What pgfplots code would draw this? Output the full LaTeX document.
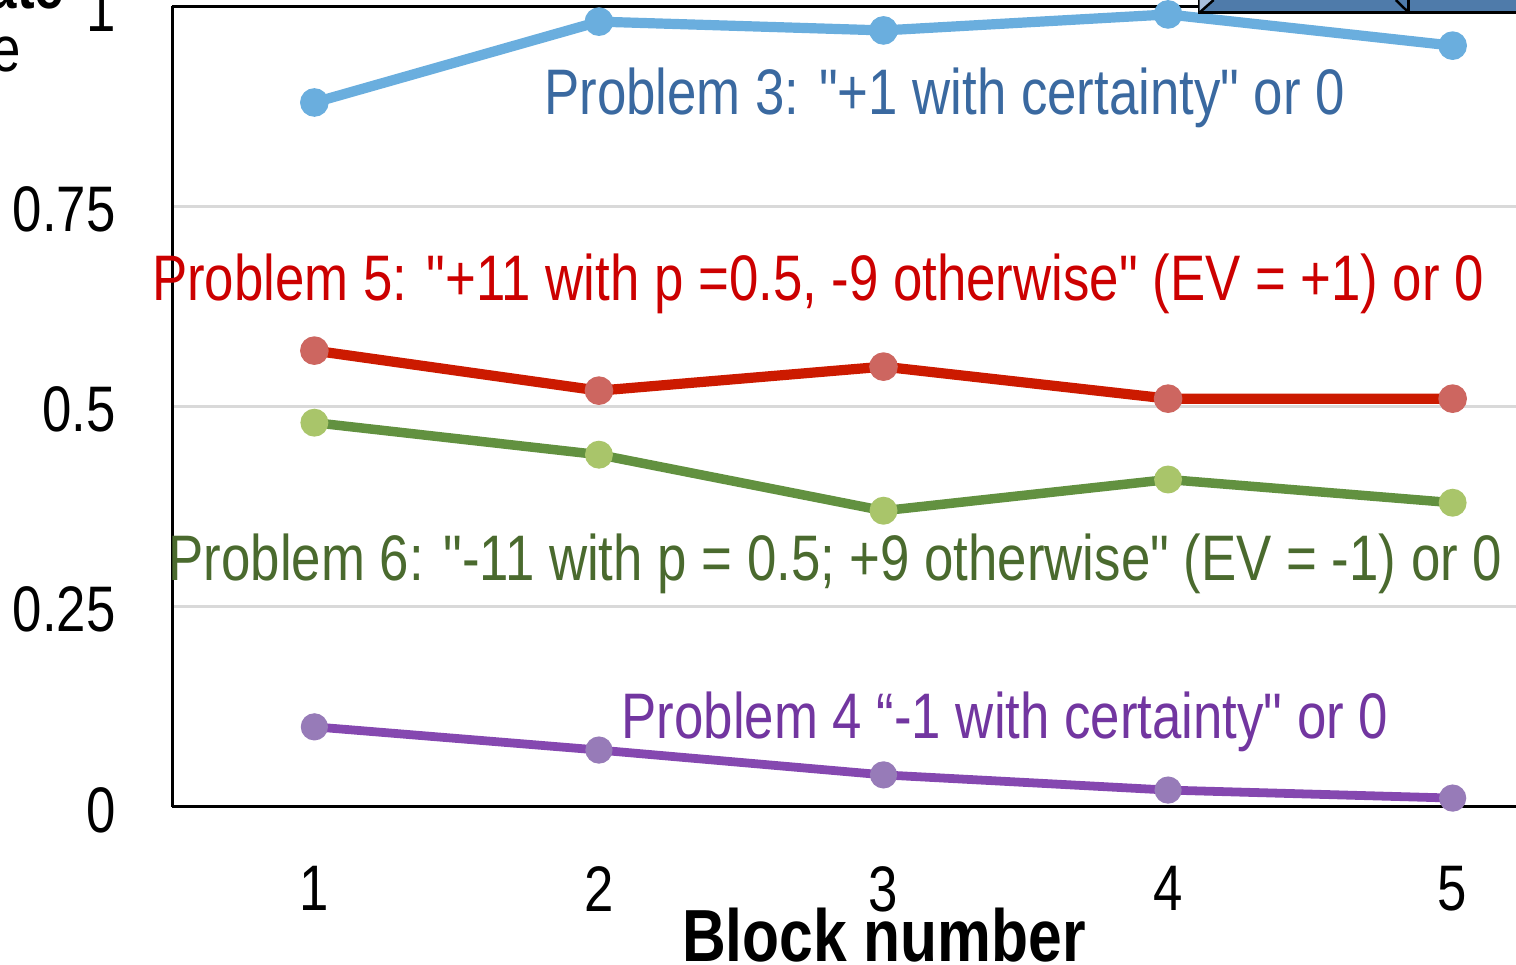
\documentclass[border=0pt]{standalone}
\usepackage{pgfplots}
\pgfplotsset{compat=1.18}
\usepackage{fontspec}
\setmainfont{Liberation Sans}[FakeStretch=0.82, Ligatures=TeXOff]

\definecolor{pthree}{HTML}{6AAEDE}
\definecolor{pthreetxt}{HTML}{3A69A0}
\definecolor{pfive}{HTML}{CC1A00}
\definecolor{pfivemk}{HTML}{CD6660}
\definecolor{pfivetxt}{HTML}{CC0000}
\definecolor{psix}{HTML}{629140}
\definecolor{psixmk}{HTML}{A9C56A}
\definecolor{psixtxt}{HTML}{4A6A2E}
\definecolor{pfour}{HTML}{8548B0}
\definecolor{pfourmk}{HTML}{977BB8}
\definecolor{pfourtxt}{HTML}{7236A0}
\definecolor{boxblue}{HTML}{4F7BAA}
\definecolor{boxlight}{HTML}{A9BFDC}

\begin{document}
\begin{tikzpicture}[x=0.01cm,y=0.01cm]
\begin{axis}[
  name=ax,
  at={(1.72cm,1.58cm)}, anchor=south west,
  scale only axis,
  width=14.22cm, height=8cm,
  xmin=0.5, xmax=5.5, ymin=0, ymax=1,
  xtick={1,2,3,4,5},
  ytick={0,0.25,0.5,0.75,1},
  yticklabels={0,0.25,0.5,0.75,1},
  major tick length=0pt,
  ymajorgrids, grid style={draw=black!15, line width=0.8pt},
  axis line style={black, line width=0.9pt},
  axis x line*=bottom, axis y line*=left,
  /pgf/number format/assume math mode=true,
  tick label style={font=\fontsize{18.3}{20}\selectfont},
  xticklabel style={yshift=-0.47cm},
  yticklabel style={xshift=-0.44cm, yshift=-0.03cm},
  clip=false,
]
% top border of the plot area
\draw[black, line width=0.9pt] (axis cs:0.5,1) -- (axis cs:5.6,1);

% Problem 3: +1 with certainty
\addplot[pthree, line width=2.9pt, mark=*, mark size=2.6pt,
  mark options={fill=pthree, draw=pthree}]
  coordinates {(1,0.88) (2,0.981) (3,0.97) (4,0.99) (5,0.951)};
% Problem 5: +11 with p=0.5, -9 otherwise
\addplot[pfive, line width=2.9pt, mark=*, mark size=2.6pt,
  mark options={fill=pfivemk, draw=pfivemk}]
  coordinates {(1,0.57) (2,0.52) (3,0.55) (4,0.51) (5,0.51)};
% Problem 6: -11 with p=0.5, +9 otherwise
\addplot[psix, line width=2.7pt, mark=*, mark size=2.6pt,
  mark options={fill=psixmk, draw=psixmk}]
  coordinates {(1,0.48) (2,0.44) (3,0.37) (4,0.409) (5,0.38)};
% Problem 4: -1 with certainty
\addplot[pfour, line width=2.5pt, mark=*, mark size=2.6pt,
  mark options={fill=pfourmk, draw=pfourmk}]
  coordinates {(1,0.10) (2,0.071) (3,0.04) (4,0.021) (5,0.011)};

% series labels
\node[pthreetxt, font=\fontsize{18.3}{20}\selectfont] at (axis cs:3.215,0.886) {Problem 3: "+1 with certainty" or 0};
\node[pfivetxt, font=\fontsize{18.3}{20}\selectfont] at (axis cs:2.77,0.654) {Problem 5: "+11 with p =0.5, -9 otherwise" (EV = +1) or 0};
\node[psixtxt, font=\fontsize{18.3}{20}\selectfont] at (axis cs:2.831,0.303) {Problem 6: "-11 with p = 0.5; +9 otherwise" (EV = -1) or 0};
\node[pfourtxt, font=\fontsize{18.3}{20}\selectfont] at (axis cs:3.427,0.106) {Problem 4 “-1 with certainty" or 0};

% block arrow shapes above the plot
\filldraw[fill=boxblue, draw=black, line width=0.9pt]
  (axis cs:4.111,0.9925) rectangle (axis cs:4.845,1.06);
\filldraw[fill=boxblue, draw=black, line width=0.9pt]
  (axis cs:4.845,0.9925) rectangle (axis cs:5.6,1.06);
\fill[boxlight] (axis cs:4.111,0.9925) -- (axis cs:4.111,1.008) -- (axis cs:4.16,1.008) -- cycle;
\draw[black, line width=0.7pt] (axis cs:4.111,0.9925) -- (axis cs:4.16,1.008);
\draw[black, line width=0.7pt] (axis cs:4.845,0.9925) -- (axis cs:4.80,1.008);
\end{axis}

\node[font=\fontsize{21}{24}\selectfont\bfseries] at (884,30) {Block number};
\node[anchor=base east, inner sep=0pt, font=\fontsize{18.3}{20}\selectfont\bfseries] at (65,956) {Choice rate};
\node[anchor=base east, inner sep=0pt, font=\fontsize{18.3}{20}\selectfont] at (22,893) {of the gamble};

\pgfresetboundingbox
\useasboundingbox (0,0) rectangle (1516,965);
\end{tikzpicture}
\end{document}
